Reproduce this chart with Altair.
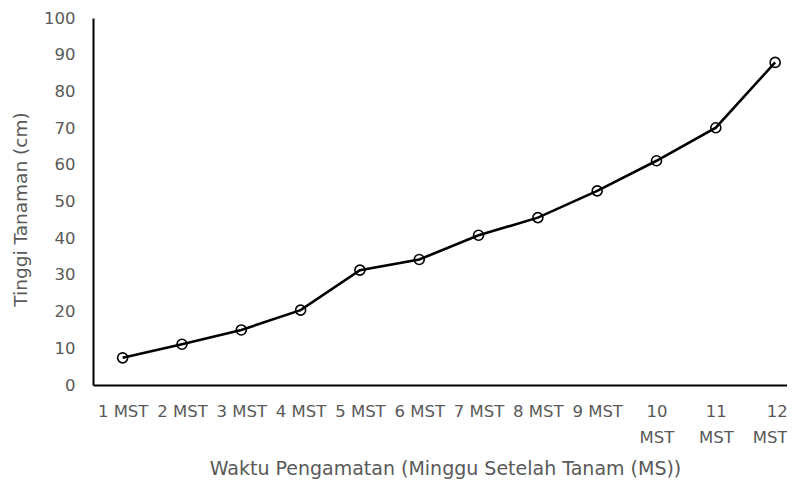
import altair as alt
import pandas as pd

weeks = [1, 2, 3, 4, 5, 6, 7, 8, 9, 10, 11, 12]
heights = [7.4, 11.1, 15.0, 20.4, 31.3, 34.2, 40.8, 45.6, 52.9, 61.1, 70.1, 87.9]
y_ticks = [0, 10, 20, 30, 40, 50, 60, 70, 80, 90, 100]

df = pd.DataFrame({"week": weeks, "height": heights})

FONT = "DejaVu Sans"
GREY = "#595959"

x_enc = alt.X(
    "week:Q",
    scale=alt.Scale(domain=[0.5, 12.2], nice=False, zero=False),
    axis=alt.Axis(
        values=weeks,
        labelExpr="datum.value >= 10 ? [toString(datum.value), 'MST'] : datum.value + ' MST'",
        title="Waktu Pengamatan (Minggu Setelah Tanam (MS))",
        ticks=False,
        grid=False,
        domainColor="black",
        domainWidth=2,
        labelFont=FONT,
        labelFontSize=16.5,
        labelColor=GREY,
        labelPadding=26,
        labelLineHeight=26,
        labelBaseline="middle",
        labelAlign=alt.condition("datum.value == 12", alt.value("right"), alt.value("center")),
        labelOffset=alt.condition("datum.value == 12", alt.value(12), alt.value(0)),
        labelFlush=False,
        labelOverlap=False,
        titleFont=FONT,
        titleFontSize=19,
        titleFontWeight="normal",
        titleColor=GREY,
        titleX=352,
        titleY=83,
        titleBaseline="middle",
        titleAlign="center",
    ),
)
y_enc = alt.Y(
    "height:Q",
    scale=alt.Scale(domain=[0, 100], nice=False),
    axis=alt.Axis(
        values=y_ticks,
        title="Tinggi Tanaman (cm)",
        ticks=False,
        grid=False,
        domainColor="black",
        domainWidth=2,
        labelFont=FONT,
        labelFontSize=16.5,
        labelColor=GREY,
        labelPadding=18,
        labelBaseline="middle",
        labelOverlap=False,
        labelFlush=False,
        titleFont=FONT,
        titleFontSize=18.5,
        titleFontWeight="normal",
        titleColor=GREY,
        titleX=-73,
        titleY=191,
        titleAngle=270,
        titleAlign="center",
        titleBaseline="middle",
    ),
)

base = alt.Chart(df).encode(x=x_enc, y=y_enc)
line = base.mark_line(color="black", strokeWidth=2.6)
points = base.mark_point(
    shape="circle", size=100, stroke="black", strokeWidth=1.6, filled=False, opacity=1
)

chart = (
    alt.layer(line, points)
    .properties(
        width=694,
        height=367,
        background="white",
        autosize=alt.AutoSizeParams(type="none"),
        padding={"left": 85, "top": 10, "right": 0, "bottom": 94},
    )
    .configure_view(strokeWidth=0, strokeOpacity=0)
)

chart.save("out.html", embed_options={"renderer": "svg", "actions": False})
